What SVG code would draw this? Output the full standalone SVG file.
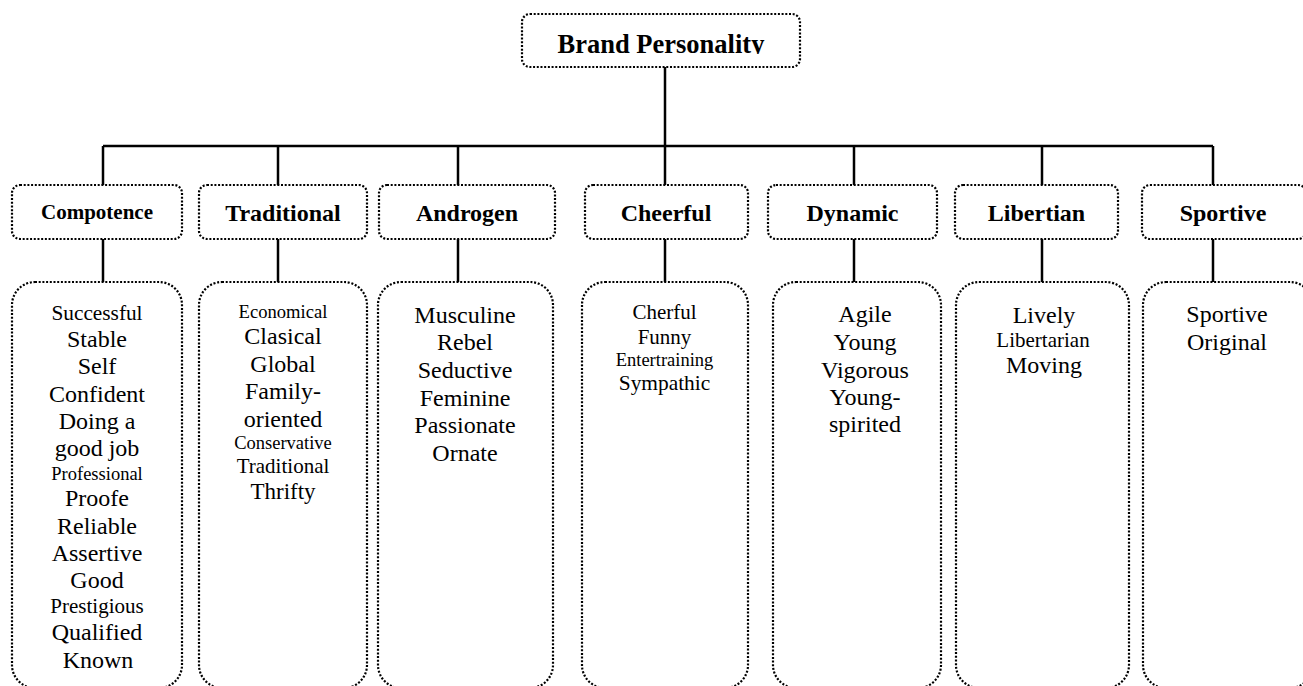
<svg xmlns="http://www.w3.org/2000/svg" width="1303" height="686" viewBox="0 0 1303 686">
<style>
.box{fill:#fff;stroke:#000;stroke-width:2.2;stroke-dasharray:2 1.7}
.ln{stroke:#000;stroke-width:2.5;fill:none}
.t{font-family:"Liberation Serif","Times New Roman",serif;text-anchor:middle;fill:#000}
.h{font-weight:bold;font-size:24px}
.b{font-size:24px}
</style>
<defs>
<clipPath id="topclip"><rect x="522" y="14" width="278" height="40"/></clipPath>
</defs>
<g id="connectors">
<path class="ln" d="M665 67V146M103 146H1213M103 146V185M278 146V185M458 146V185M665 146V185M854 146V185M1042 146V185M1213 146V185"/>
<path class="ln" d="M103 239V282M278 239V282M458 239V282M665 239V282M854 239V282M1042 239V282M1213 239V282"/>
</g>
<g id="root">
<rect class="box" x="522" y="14" width="278" height="53" rx="8"/>
<text class="t h" x="661" y="52.7" style="font-size:26.5px" clip-path="url(#topclip)">Brand Personality</text>
</g>
<g id="compotence">
<rect class="box" x="12" y="185" width="170" height="54" rx="8"/>
<text class="t h" x="97" y="219" style="font-size:21px">Compotence</text>
<rect class="box" x="12" y="282" width="170" height="406" rx="23"/>
<text class="t" x="97" y="320" style="font-size:21.3px">Successful</text>
<text class="t b" x="97" y="346.7">Stable</text>
<text class="t b" x="97" y="374">Self</text>
<text class="t b" x="97" y="401.7">Confident</text>
<text class="t b" x="97" y="429.3">Doing a</text>
<text class="t b" x="97" y="456">good job</text>
<text class="t" x="97" y="480" style="font-size:18.5px">Professional</text>
<text class="t b" x="97" y="506">Proofe</text>
<text class="t b" x="97" y="534">Reliable</text>
<text class="t b" x="97" y="561">Assertive</text>
<text class="t b" x="97" y="588.3">Good</text>
<text class="t" x="97" y="613.3" style="font-size:21px">Prestigious</text>
<text class="t b" x="97" y="640">Qualified</text>
<text class="t b" x="98" y="668.3">Known</text>
</g>
<g id="traditional">
<rect class="box" x="199" y="185" width="168" height="54" rx="8"/>
<text class="t h" x="283" y="221">Traditional</text>
<rect class="box" x="199" y="282" width="168" height="406" rx="23"/>
<text class="t" x="283" y="318.3" style="font-size:18.6px">Economical</text>
<text class="t b" x="283" y="344">Clasical</text>
<text class="t b" x="283" y="371.7">Global</text>
<text class="t b" x="283" y="399.3">Family-</text>
<text class="t b" x="283" y="426.7">oriented</text>
<text class="t" x="283" y="449.3" style="font-size:18.5px">Conservative</text>
<text class="t" x="283" y="472.7" style="font-size:21px">Traditional</text>
<text class="t" x="283" y="499.3" style="font-size:23px">Thrifty</text>
</g>
<g id="androgen">
<rect class="box" x="379" y="185" width="176" height="54" rx="8"/>
<text class="t h" x="467" y="221">Androgen</text>
<rect class="box" x="378" y="282" width="175" height="406" rx="23"/>
<text class="t b" x="465" y="322.7">Musculine</text>
<text class="t b" x="465" y="350">Rebel</text>
<text class="t b" x="465" y="378.3">Seductive</text>
<text class="t b" x="465" y="406">Feminine</text>
<text class="t b" x="465" y="432.7">Passionate</text>
<text class="t b" x="465" y="460.7">Ornate</text>
</g>
<g id="cheerful">
<rect class="box" x="585" y="185" width="163" height="54" rx="8"/>
<text class="t h" x="666" y="221">Cheerful</text>
<rect class="box" x="582" y="282" width="166" height="406" rx="23"/>
<text class="t" x="664.5" y="319" style="font-size:21px">Cherful</text>
<text class="t" x="664.5" y="344" style="font-size:21px">Funny</text>
<text class="t" x="664.5" y="366" style="font-size:18.5px">Entertraining</text>
<text class="t" x="664.5" y="390" style="font-size:21.4px">Sympathic</text>
</g>
<g id="dynamic">
<rect class="box" x="768" y="185" width="169" height="54" rx="8"/>
<text class="t h" x="852.5" y="221">Dynamic</text>
<rect class="box" x="773" y="282" width="168" height="406" rx="23"/>
<text class="t b" x="865" y="322">Agile</text>
<text class="t b" x="865" y="350">Young</text>
<text class="t b" x="865" y="378">Vigorous</text>
<text class="t b" x="865" y="405">Young-</text>
<text class="t b" x="865" y="432">spirited</text>
</g>
<g id="libertian">
<rect class="box" x="955" y="185" width="163" height="54" rx="8"/>
<text class="t h" x="1036.5" y="221">Libertian</text>
<rect class="box" x="956" y="282" width="173" height="406" rx="23"/>
<text class="t b" x="1044" y="322.7">Lively</text>
<text class="t" x="1043" y="347.3" style="font-size:21px">Libertarian</text>
<text class="t b" x="1044" y="373.3">Moving</text>
</g>
<g id="sportive">
<rect class="box" x="1142" y="185" width="164" height="54" rx="8"/>
<text class="t h" x="1223" y="221">Sportive</text>
<rect class="box" x="1143" y="282" width="170" height="406" rx="23"/>
<text class="t b" x="1227" y="322">Sportive</text>
<text class="t b" x="1227" y="349.5">Original</text>
</g>
</svg>
